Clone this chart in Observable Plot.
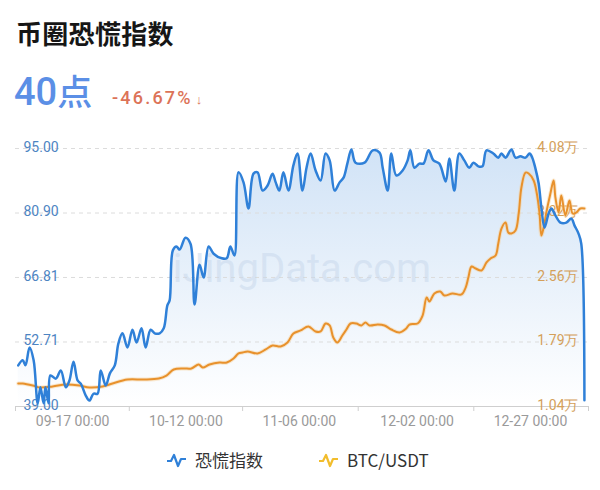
<!DOCTYPE html>
<html><head><meta charset="utf-8">
<script src="https://cdn.jsdelivr.net/npm/d3@7"></script>
<script src="https://cdn.jsdelivr.net/npm/@observablehq/plot@0.6"></script>
<style>
html,body{margin:0;padding:0;background:#fff}
body{width:600px;height:490px;position:relative;overflow:hidden;font-family:Roboto,"Noto Sans CJK SC",sans-serif}
#title{position:absolute;left:16px;top:15px;font-family:"Noto Sans CJK SC";font-weight:700;font-size:26px;line-height:36px;color:#161616;letter-spacing:0.3px}
#value{position:absolute;left:14px;top:68px;font-size:38px;line-height:44px;color:#5b8fe6;font-family:Roboto,"Noto Sans CJK SC";font-weight:500}
#value .unit{font-family:"Noto Sans CJK SC";font-size:35px;font-weight:500}
#change{position:absolute;left:112px;top:86px;font-size:18px;line-height:24px;color:#dc7358;letter-spacing:2.2px;font-family:Roboto;font-weight:500}
#change .arrow{font-size:13px;margin-left:3px}
#chart{position:absolute;left:0;top:130px}
.leg{position:absolute;top:449px;height:22px;display:flex;align-items:center;font-size:17px;color:#333}
.leg span{font-family:"Noto Sans CJK SC",Roboto;margin-left:8px;line-height:22px}
</style></head>
<body>
<div id="title"></div>
<div id="value"></div>
<div id="change"></div>
<div id="chart"></div>
<div class="leg" style="left:166px"><svg width="21" height="16"><path d="M1,9 L5,9 L8,3 L12,14 L15,7 L20,7" fill="none" stroke="#2f80d8" stroke-width="2.2" stroke-linejoin="round"/></svg><span id="leg1"></span></div>
<div class="leg" style="left:318px"><svg width="21" height="16"><path d="M1,9 L5,9 L8,3 L12,14 L15,7 L20,7" fill="none" stroke="#f2bd2c" stroke-width="2.2" stroke-linejoin="round"/></svg><span id="leg2"></span></div>
<script>
// ---- header values ----
const titleText = "币圈恐慌指数";
const currentValue = 40;
const currentUnit = "点";
const changePct = -46.67;
const seriesNames = ["恐慌指数", "BTC/USDT"];
const watermarkText = ["iJingData.com"];

// ---- x axis ----
const startDate = [2020, 8, 5];            // 2020-09-05 (UTC)
const xDomainDays = [-0.6, 125.8];
const xTickLabels = ["09-17 00:00", "10-12 00:00", "11-06 00:00", "12-02 00:00", "12-27 00:00"];
const xTickDates = ["2020-09-17", "2020-10-12", "2020-11-06", "2020-12-02", "2020-12-27"];

// ---- y axes ----
const yMin = 38.61, yMax = 95;
const leftTicks = [38.61, 52.71, 66.81, 80.90, 95.00];
const leftTickLabels = ["39.00", "52.71", "66.81", "80.90", "95.00"];
const btcMin = 10400, btcMax = 40800;
const rightTickLabels = ["1.04万", "1.79万", "2.56万", "3.32万", "4.08万"];

// ---- fear index series (day offset from start, value) ----
const fearDays = [0,1.0,1.6,2.5,3.4,4.3,4.9,5.6,6.0,6.7,7.1,8.3,9.4,10.5,11.3,12.2,13.1,13.8,14.9,15.7,16.6,17.5,18.2,19.3,20.2,21.3,22.1,23.0,24.1,25.2,26.1,27.2,28.1,29.2,30.1,31.2,32.1,32.9,33.4,34.1,34.9,35.6,36.9,38.0,38.9,40.0,40.9,42.0,43.1,44.9,46.0,46.8,47.7,48.6,49.7,50.8,51.9,52.8,53.9,55.0,56.1,56.8,57.6,58.5,59.6,60.7,61.6,62.7,63.6,64.5,65.6,66.7,67.8,68.7,69.8,70.9,71.8,72.6,73.5,74.4,76.4,78.2,79.7,80.4,81.5,82.3,83.4,84.8,85.9,86.5,87.4,88.5,89.4,90.5,91.6,92.9,94.3,95.1,96.2,97.3,98.4,99.5,100.4,101.5,102.4,103.3,104.8,105.9,106.6,107.5,108.8,109.7,110.8,111.9,112.8,113.4,114.1,114.8,115.4,116.1,117.0,117.6,118.5,119.6,120.9,122.0,122.7,123.6,124.2,124.9];
const fearValues = [47.6,48.7,47.6,51.5,48.7,39.3,42.8,39.3,42.8,39.3,45.4,44.7,46.5,42.8,44.3,48.4,44.3,43.6,41.0,39.9,41.4,41.4,46.5,43.2,45.8,47.6,52.4,54.6,51.5,55.4,52.6,55.7,51.5,55.4,54.6,54.6,55.7,60.7,61.8,72.7,73.6,72.9,75.5,74.2,60.9,69.6,66.8,73.6,72.0,71.0,71.0,73.6,71.6,89.8,87.6,81.9,89.5,89.8,85.8,86.9,89.5,87.6,85.8,89.8,85.8,91.3,93.9,85.8,90.8,93.9,90.2,88.0,93.9,92.4,85.8,87.6,88.7,91.7,94.8,91.9,91.9,94.6,94.1,90.8,85.8,93.9,89.1,90.2,92.4,94.6,90.8,91.7,91.7,94.6,92.4,91.7,87.8,92.8,85.8,93.9,92.4,90.8,91.9,91.1,91.1,94.6,93.9,93.0,93.9,93.0,94.8,93.0,93.3,93.0,93.9,93.0,90.6,87.4,82.1,77.7,80.8,81.9,80.4,78.8,78.8,79.7,78.2,76.4,74.2,40];

// ---- BTC/USDT series (day offset from start, price) ----
const btcDays = [0,1.0,3.2,4.7,7.6,10.5,13.5,15.7,18.6,20.8,24.1,27.7,31.0,32.7,34.3,36.5,38.2,39.8,40.7,42.2,44.4,46.0,47.5,48.6,49.5,50.6,52.8,54.6,56.1,57.9,59.4,60.7,62.3,64.0,65.6,66.7,67.8,68.7,69.5,70.4,71.5,72.4,73.3,74.6,75.7,76.6,77.5,79.3,80.8,82.3,84.1,85.6,86.3,88.1,89.2,90.1,90.7,91.8,93.1,94.0,95.8,97.8,98.7,99.3,100.0,100.9,102.2,103.3,104.2,105.3,105.9,106.6,107.5,108.1,108.8,109.7,110.4,111.0,111.9,112.6,113.7,114.4,115.0,115.4,115.9,116.5,117.4,118.1,118.5,119.2,119.8,120.7,121.6,122.3,123.1,124.0,124.9];
const btcValues = [13110,13110,12870,12640,12760,12990,12870,12640,12760,13110,13580,13580,13700,14050,14760,14880,14880,15350,15000,15350,15580,15580,16060,16650,16760,16880,16650,17120,17590,17470,17940,19000,19360,19830,19240,19240,20180,19950,18530,17940,18770,19470,20180,20180,19950,20300,19950,20060,19950,19470,19120,19590,20060,20180,21120,23240,22770,23720,23950,23480,23720,23600,24420,25600,26900,26660,26430,27370,27840,28190,29610,31370,32080,30900,30780,31140,33140,36210,37970,37850,37030,35500,33140,30550,31490,33260,35500,37030,35030,33260,35260,32910,34670,33140,33260,33730,33730];

// ---- build ----
const DAY = 864e5;
const t0 = Date.UTC(startDate[0], startDate[1], startDate[2]);
const toDate = d => new Date(t0 + d * DAY);
const btcToY = b => yMin + (b - btcMin) * (yMax - yMin) / (btcMax - btcMin);
const fear = fearDays.map((d, i) => ({date: toDate(d), value: fearValues[i]}));
const btc = btcDays.map((d, i) => ({date: toDate(d), value: btcToY(btcValues[i])}));

const labelDates = xTickDates.map(s => new Date(s + "T00:00:00Z"));
const xLabelMap = new Map(labelDates.map((d, i) => [+d, xTickLabels[i]]));
const domainDates = xDomainDays.map(toDate);
const boundaryDates = [domainDates[0]];
for (let i = 0; i < labelDates.length - 1; i++) boundaryDates.push(new Date((+labelDates[i] + +labelDates[i + 1]) / 2));
boundaryDates.push(domainDates[1]);
const leftMap = new Map(leftTicks.map((t, i) => [t, leftTickLabels[i]]));
const rightMap = new Map(leftTicks.map((t, i) => [t, rightTickLabels[i]]));

const defs = () => {
  const d = d3.create("svg:defs");
  const g = d.append("linearGradient").attr("id", "fearGrad").attr("x1", 0).attr("y1", 0).attr("x2", 0).attr("y2", 1);
  g.append("stop").attr("offset", "0%").attr("stop-color", "#2f80d8").attr("stop-opacity", 0.22);
  g.append("stop").attr("offset", "100%").attr("stop-color", "#2f80d8").attr("stop-opacity", 0.0);
  return d.node();
};

const curve = "catmull-rom";
const chart = Plot.plot({
  width: 600, height: 310,
  marginTop: 18, marginBottom: 34, marginLeft: 15, marginRight: 12,
  style: {fontFamily: "Roboto, sans-serif", fontSize: "14px", background: "transparent", overflow: "visible"},
  x: {type: "utc", domain: domainDates, label: null},
  y: {domain: [yMin, yMax], label: null},
  marks: [
    defs,
    Plot.areaY(fear, {x: "date", y1: yMin, y2: "value", fill: "url(#fearGrad)", curve}),
    Plot.gridY(leftTicks.slice(1), {stroke: "#dcdcdc", strokeOpacity: 1, strokeDasharray: "4,4"}),
    Plot.text(watermarkText, {text: d => d, frameAnchor: "middle", dy: -8, fontSize: 40, fill: "#c6d6ea", fillOpacity: 0.5, fontFamily: "Roboto"}),
    Plot.ruleY([yMin], {stroke: "#cfcfcf"}),
    Plot.axisX(boundaryDates, {tickSize: 5, tickFormat: () => "", stroke: "#cfcfcf", label: null}),
    Plot.axisX(labelDates, {tickSize: 0, tickPadding: 10, tickFormat: d => xLabelMap.get(+d), fill: "#9a9a9a", fontSize: 14, label: null}),
    Plot.axisY(leftTicks, {anchor: "left", tickSize: 0, textAnchor: "start", dx: 17, dy: -1, fill: "#4d84c2", fontSize: 14, tickFormat: d => leftMap.get(d), label: null}),
    Plot.axisY(leftTicks, {anchor: "right", tickSize: 0, textAnchor: "end", dx: -19, dy: -1, fill: "#d4a05a", fontSize: 14, tickFormat: d => rightMap.get(d), label: null}),
    Plot.lineY(btc, {x: "date", y: "value", stroke: "#f6cf94", strokeWidth: 4, strokeOpacity: 0.45, curve}),
    Plot.lineY(btc, {x: "date", y: "value", stroke: "#e8912c", strokeWidth: 2, curve}),
    Plot.lineY(fear, {x: "date", y: "value", stroke: "#2f80d8", strokeWidth: 2.5, curve})
  ]
});
document.getElementById("chart").appendChild(chart);

document.getElementById("title").textContent = titleText;
document.getElementById("value").innerHTML = currentValue + '<span class="unit">' + currentUnit + '</span>';
document.getElementById("change").innerHTML = changePct.toFixed(2) + '%<span class="arrow">' + (changePct < 0 ? "↓" : "↑") + '</span>';
document.getElementById("leg1").textContent = seriesNames[0];
document.getElementById("leg2").textContent = seriesNames[1];
</script>
</body></html>
